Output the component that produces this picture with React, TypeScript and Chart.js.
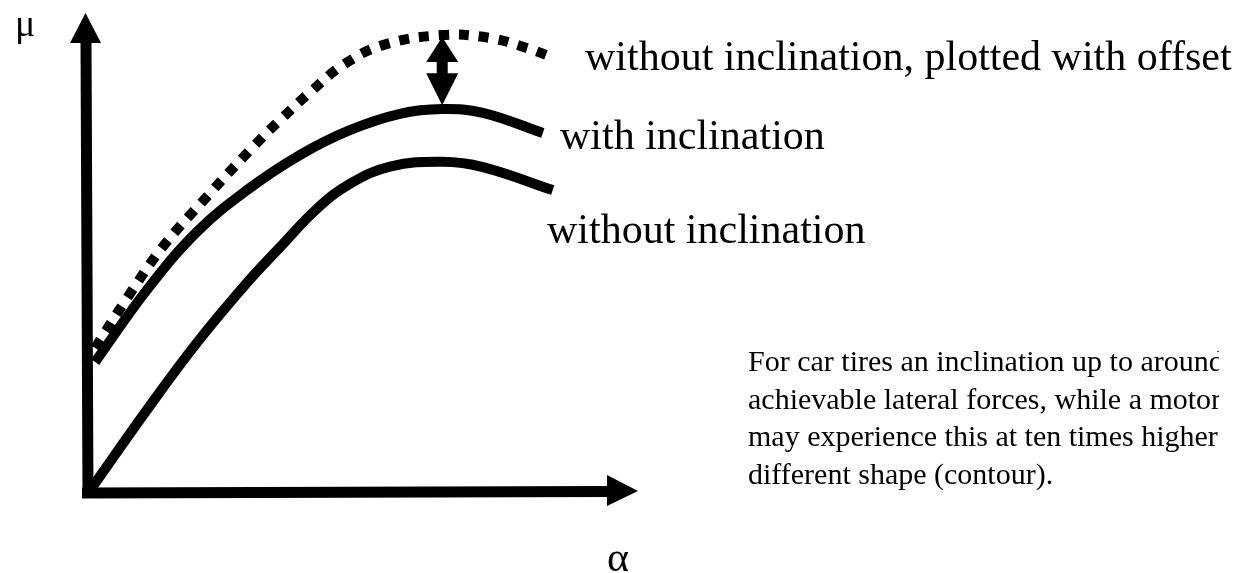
import React, { useEffect, useRef } from "react";
import { Chart, registerables } from "chart.js";

Chart.register(...registerables);

// slip angle (alpha) positions and friction (mu) values of each curve
const withInclinationAlpha = [0.13, 1.07, 1.98, 2.89, 3.85, 4.76, 5.67, 6.44, 7.18, 8.27];
const withInclinationMu = [2.73, 4.23, 5.44, 6.31, 7.04, 7.56, 7.9, 8.0, 7.92, 7.5];

const withoutInclinationAlpha = [0.04, 1.07, 1.98, 2.89, 3.49, 4.16, 4.76, 5.49, 6.44, 7.18, 8.45];
const withoutInclinationMu = [0.06, 1.73, 3.13, 4.38, 5.12, 5.92, 6.44, 6.8, 6.9, 6.79, 6.31];

const offsetCurveAlpha = [0.13, 0.71, 1.36, 2.16, 2.95, 3.49, 4.04, 4.64, 5.36, 6.44, 7.31, 7.98, 8.44];
const offsetCurveMu = [3.02, 4.06, 5.13, 6.17, 7.15, 7.77, 8.35, 8.92, 9.33, 9.54, 9.48, 9.27, 9.08];

// double arrow showing the offset: [alpha, mu top, mu bottom]
const offsetArrow = [6.44, 9.5, 8.08];

const axisRange = [0, 10];

const curveLabels = [
  "without inclination, plotted with offset",
  "with inclination",
  "without inclination",
];
const axisLabels = ["μ", "α"];
const noteLines = [
  "For car tires an inclination up to around 1° increases the",
  "achievable lateral forces, while a motorcycle tire",
  "may experience this at ten times higher angles with its",
  "different shape (contour).",
];

const toPoints = (xs: number[], ys: number[]) => xs.map((x, i) => ({ x, y: ys[i] }));

const SERIF = '"Liberation Serif", "Times New Roman", serif';

const sketchPlugin = {
  id: "sketch",
  beforeDatasetsDraw(chart: any) {
    const ctx = chart.ctx as CanvasRenderingContext2D;
    const xs = chart.scales.x;
    const ys = chart.scales.y;
    const ox = xs.getPixelForValue(axisRange[0]);
    const oy = ys.getPixelForValue(axisRange[0]);
    const xEnd = xs.getPixelForValue(axisRange[1]);
    const yEnd = ys.getPixelForValue(axisRange[1]);
    ctx.save();
    ctx.fillStyle = "#000";
    ctx.strokeStyle = "#000";
    ctx.lineWidth = 11;
    ctx.lineCap = "butt";
    // y axis
    ctx.beginPath();
    ctx.moveTo(ox, oy + 5);
    ctx.lineTo(ox - 2, yEnd + 29);
    ctx.stroke();
    ctx.beginPath();
    ctx.moveTo(ox - 2.5, yEnd);
    ctx.lineTo(ox - 18, yEnd + 30);
    ctx.lineTo(ox + 13, yEnd + 30);
    ctx.closePath();
    ctx.fill();
    // x axis
    ctx.beginPath();
    ctx.moveTo(ox - 6, oy);
    ctx.lineTo(xEnd - 30, oy - 1.5);
    ctx.stroke();
    ctx.beginPath();
    ctx.moveTo(xEnd, oy - 2);
    ctx.lineTo(xEnd - 31, oy - 18);
    ctx.lineTo(xEnd - 31, oy + 13);
    ctx.closePath();
    ctx.fill();
    ctx.restore();
  },
  afterDatasetsDraw(chart: any) {
    const ctx = chart.ctx as CanvasRenderingContext2D;
    const xs = chart.scales.x;
    const ys = chart.scales.y;
    ctx.save();
    ctx.fillStyle = "#000";
    ctx.strokeStyle = "#000";
    // double arrow
    const ax = xs.getPixelForValue(offsetArrow[0]);
    const top = ys.getPixelForValue(offsetArrow[1]);
    const bot = ys.getPixelForValue(offsetArrow[2]);
    const hw = 16;
    const topHead = 25;
    const botHead = 32;
    ctx.beginPath();
    ctx.moveTo(ax, top);
    ctx.lineTo(ax - hw, top + topHead);
    ctx.lineTo(ax + hw, top + topHead);
    ctx.closePath();
    ctx.fill();
    ctx.beginPath();
    ctx.moveTo(ax, bot);
    ctx.lineTo(ax - hw, bot - botHead);
    ctx.lineTo(ax + hw, bot - botHead);
    ctx.closePath();
    ctx.fill();
    ctx.fillRect(ax - 5.5, top + topHead - 1, 11, bot - top - topHead - botHead + 2);

    // texts
    ctx.textAlign = "left";
    ctx.textBaseline = "alphabetic";
    ctx.font = `42px ${SERIF}`;
    ctx.fillText(curveLabels[0], 585, 70);
    ctx.fillText(curveLabels[1], 560, 149);
    ctx.fillText(curveLabels[2], 547, 243);
    ctx.font = `38px ${SERIF}`;
    ctx.fillText(axisLabels[0], 15, 36);
    ctx.font = `42px ${SERIF}`;
    ctx.fillText(axisLabels[1], 607, 571);
    ctx.save();
    ctx.beginPath();
    ctx.rect(700, 320, 519, 200);
    ctx.clip();
    ctx.font = `30px ${SERIF}`;
    noteLines.forEach((line, i) => ctx.fillText(line, 748, 371 + i * 37.7));
    ctx.restore();
    ctx.restore();
  },
};

export default function App() {
  const ref = useRef<HTMLCanvasElement | null>(null);
  useEffect(() => {
    document.body.style.margin = "0";
    const canvas = ref.current;
    if (!canvas) return;
    const solid = {
      showLine: true,
      borderColor: "#000",
      backgroundColor: "#000",
      borderWidth: 10,
      pointRadius: 0,
      tension: 0.4,
      borderCapStyle: "butt" as const,
      borderJoinStyle: "round" as const,
      fill: false,
      clip: false as const,
    };
    const chart = new Chart(canvas, {
      type: "scatter",
      data: {
        datasets: [
          {
            ...solid,
            label: curveLabels[0],
            data: toPoints(offsetCurveAlpha, offsetCurveMu),
            borderDash: [10, 10],
          },
          { ...solid, label: curveLabels[1], data: toPoints(withInclinationAlpha, withInclinationMu) },
          { ...solid, label: curveLabels[2], data: toPoints(withoutInclinationAlpha, withoutInclinationMu) },
        ],
      },
      options: {
        animation: false,
        responsive: false,
        maintainAspectRatio: false,
        events: [],
        layout: { padding: { left: 88, right: 612, top: 13, bottom: 80 } },
        plugins: { legend: { display: false }, tooltip: { enabled: false } },
        scales: {
          x: { type: "linear", min: axisRange[0], max: axisRange[1], display: false },
          y: { type: "linear", min: axisRange[0], max: axisRange[1], display: false },
        },
      },
      plugins: [sketchPlugin],
    });
    return () => chart.destroy();
  }, []);
  return (
    <div style={{ width: 1250, height: 573, background: "#fff" }}>
      <canvas ref={ref} width={1250} height={573} style={{ display: "block" }} />
    </div>
  );
}
